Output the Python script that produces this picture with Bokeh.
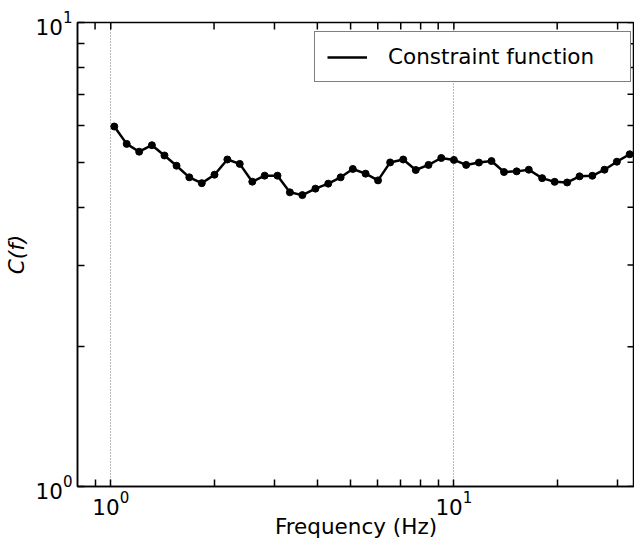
import math
from bokeh.plotting import figure
from bokeh.models import FixedTicker, Legend, LegendItem, Range1d
from bokeh.embed import file_html
from bokeh.resources import INLINE

# Data
freq = [1.024, 1.113, 1.210, 1.318, 1.434, 1.555, 1.694, 1.842, 2.006, 2.187,
        2.376, 2.585, 2.809, 3.061, 3.327, 3.617, 3.949, 4.303, 4.677, 5.074,
        5.529, 6.010, 6.519, 7.118, 7.742, 8.433, 9.188, 10.0, 10.86, 11.83,
        12.87, 14.00, 15.24, 16.53, 18.08, 19.66, 21.38, 23.24, 25.32, 27.47,
        29.85, 32.53]
cf = [5.968, 5.475, 5.267, 5.439, 5.169, 4.913, 4.638, 4.506, 4.699, 5.067,
      4.958, 4.539, 4.677, 4.677, 4.305, 4.246, 4.385, 4.495, 4.638, 4.834,
      4.723, 4.568, 4.994, 5.067, 4.810, 4.933, 5.105, 5.057, 4.933, 4.991,
      5.028, 4.762, 4.777, 4.817, 4.619, 4.535, 4.521, 4.660, 4.674, 4.817,
      5.012, 5.200]

x_major = [1, 10]
x_minor = [0.9, 2, 3, 4, 5, 6, 7, 8, 9, 20, 30]
y_major = [1, 10]
y_minor = [2, 3, 4, 5, 6, 7, 8, 9]

series_label = "Constraint function"
x_label = "Frequency (Hz)"
y_label = "C(f)"

FONT = "DejaVu Sans"
FS = "21.5px"
X_START, X_END = 0.8, 33.6
Y_START, Y_END = 1, 10

p = figure(width=634, height=541, x_axis_type="log", y_axis_type="log",
           x_range=Range1d(X_START, X_END), y_range=Range1d(Y_START, Y_END),
           output_backend="svg", toolbar_location=None,
           min_border_left=72, min_border_top=22, min_border_right=0,
           min_border_bottom=0)

p.outline_line_color = "black"
p.outline_line_width = 1.5
p.background_fill_color = "white"
p.border_fill_color = "white"

for ax, tk in ((p.xaxis[0], FixedTicker(ticks=x_major, minor_ticks=x_minor)),
               (p.yaxis[0], FixedTicker(ticks=y_major, minor_ticks=y_minor))):
    ax.ticker = tk
    ax.axis_line_color = "black"
    ax.axis_line_width = 1.5
    ax.major_tick_in = 7
    ax.major_tick_out = 0
    ax.minor_tick_in = 7
    ax.minor_tick_out = 0
    ax.major_tick_line_color = "black"
    ax.minor_tick_line_color = "black"
    ax.major_tick_line_width = 1.5
    ax.minor_tick_line_width = 1.5
    ax.major_label_text_font = FONT
    ax.major_label_text_font_size = FS
    ax.major_label_text_color = "black"
    ax.axis_label_text_font = FONT
    ax.axis_label_text_font_size = FS
    ax.axis_label_text_color = "black"
    ax.axis_label_text_font_style = "normal"

p.xaxis[0].axis_label = x_label
p.yaxis[0].axis_label = y_label
p.yaxis[0].axis_label_text_font_style = "italic"
p.xaxis[0].major_label_standoff = 4
p.yaxis[0].major_label_standoff = 5
p.xaxis[0].axis_label_standoff = -4
p.yaxis[0].axis_label_standoff = 4

# inward ticks on the top and right spines
top_ticks = x_major + x_minor
right_ticks = y_major + y_minor
p.ray(x=top_ticks, y=[Y_END] * len(top_ticks), length=7, length_units="screen",
      angle=-math.pi / 2, line_color="black", line_width=1.5)
p.ray(x=[X_END] * len(right_ticks), y=right_ticks, length=7, length_units="screen",
      angle=math.pi, line_color="black", line_width=1.5)

p.xgrid.ticker = FixedTicker(ticks=x_major)
p.xgrid.grid_line_color = "#777777"
p.xgrid.grid_line_dash = "1 2"
p.xgrid.grid_line_width = 1
p.ygrid.visible = False

line_r = p.line(freq, cf, line_color="black", line_width=2.5)
p.scatter(freq, cf, size=7, fill_color="black", line_color="black")

legend = Legend(items=[LegendItem(label=series_label, renderers=[line_r])],
                location=(237, 404))
legend.border_line_color = "black"
legend.border_line_width = 1.2
legend.background_fill_color = "white"
legend.background_fill_alpha = 1.0
legend.padding = 12
legend.margin = 0
legend.glyph_width = 40
legend.glyph_height = 24
legend.label_standoff = 21
legend.label_width = 230
legend.label_text_font = FONT
legend.label_text_font_size = FS
legend.label_text_color = "black"
p.add_layout(legend)

open("out.html", "w").write(file_html(p, INLINE))
